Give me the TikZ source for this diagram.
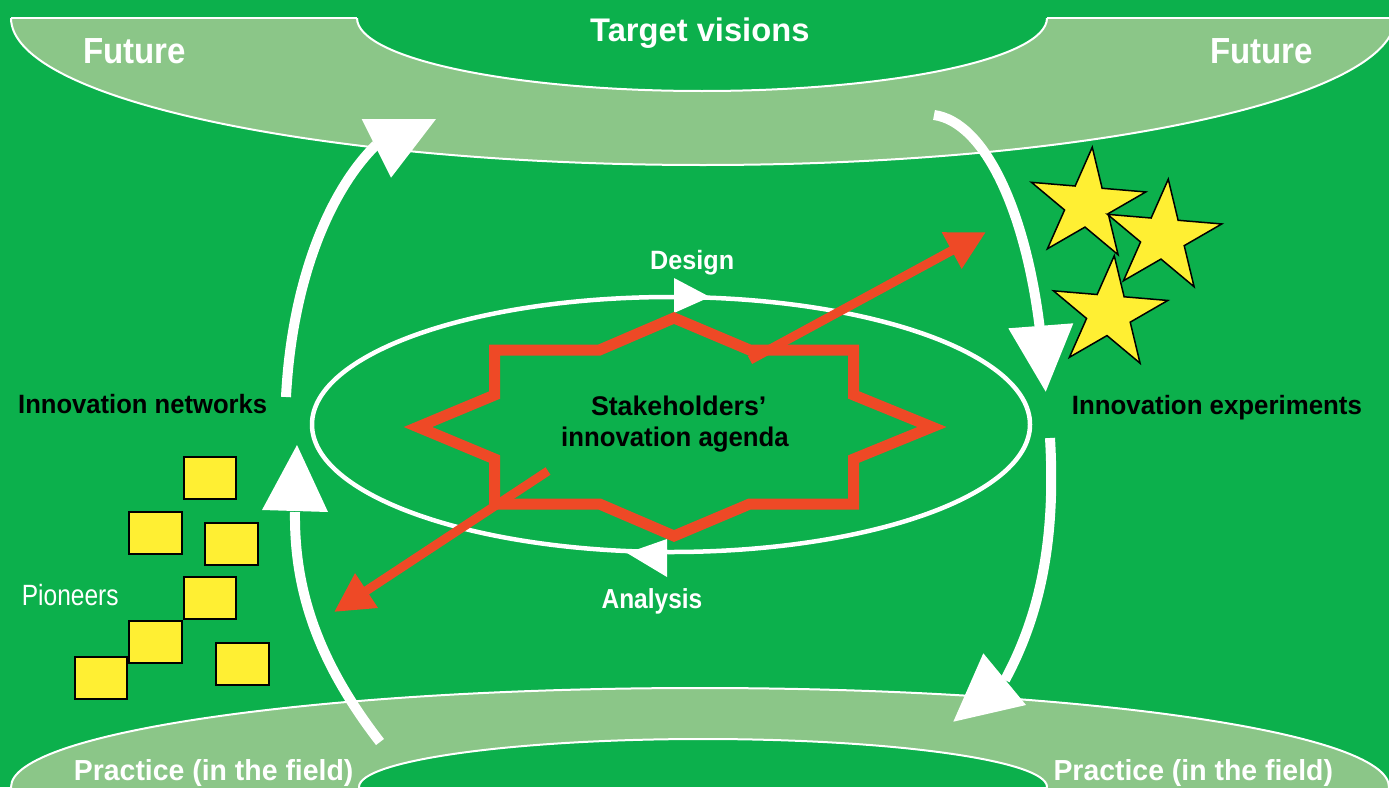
\documentclass[tikz,border=0pt]{standalone}
\usepackage{graphicx}
\usepackage{fontspec}
\setmainfont{Liberation Sans}
\usetikzlibrary{shapes.geometric,arrows.meta}

\definecolor{fieldgreen}{RGB}{12,176,76}
\definecolor{bandgreen}{RGB}{139,198,136}
\definecolor{noteyellow}{RGB}{255,239,51}
\definecolor{agendared}{RGB}{238,73,38}

% size, horizontal squeeze, text
\newcommand\sqz[3]{\fontsize{#1}{#1}\selectfont\scalebox{#2}[1]{#3}}

\begin{document}
\begin{tikzpicture}[x=1pt,y=-1pt,
  bandline/.style={draw=white,line width=2pt},
  flow/.style={draw=white,line width=10pt},
  flowhead/.style={fill=white},
  redline/.style={draw=agendared,line width=9pt,-{Triangle[length=39pt,width=39pt]}},
  lbl/.style={anchor=base west,inner sep=0pt,font=\bfseries},
  note/.style={rectangle,draw=black,line width=2pt,fill=noteyellow,
               minimum width=52.5pt,minimum height=42pt,inner sep=0pt},
  idea/.style={star,star points=5,star point ratio=2.618,minimum size=116pt,
               inner sep=0pt,draw=black,line width=1.5pt,fill=noteyellow,
               xscale=1.04,rotate=-5}]

\clip (0,0) rectangle (1389,787);
\fill[fieldgreen] (0,0) rectangle (1389,787);

% upper band: Future / Target visions
\begin{scope}
  \clip (0,18) rectangle (1389,787);
  \fill[bandgreen,even odd rule]
    (703,18) ellipse [x radius=692pt,y radius=147pt]
    (702,18) ellipse [x radius=345pt,y radius=73pt];
  \draw[bandline]
    (703,18) ellipse [x radius=692pt,y radius=147pt]
    (702,18) ellipse [x radius=345pt,y radius=73pt];
\end{scope}
\draw[bandline] (11,18) -- (357,18) (1047,18) -- (1389,18);

% lower band: Practice (in the field)
\fill[bandgreen,even odd rule]
  (700,787) ellipse [x radius=689pt,y radius=99pt]
  (703,787) ellipse [x radius=344pt,y radius=48pt];
\draw[bandline]
  (700,787) ellipse [x radius=689pt,y radius=99pt]
  (703,787) ellipse [x radius=344pt,y radius=48pt];

% inner design/analysis cycle
\node[ellipse,draw=white,line width=4.5pt,minimum width=718pt,minimum height=255pt,
      inner sep=0pt] (loop) at (671,424.5) {};
\fill[flowhead] (674,278) -- (674,313) -- (710,297) -- cycle;
\fill[flowhead] (667,539) -- (667,577) -- (627,553) -- cycle;

% agenda star (square over diamond)
\draw[agendared,line width=11pt,line join=miter]
  (674,318) -- (749.7,350) -- (853.7,350) -- (853.7,395) -- (932,427)
  -- (853.7,459) -- (853.7,504) -- (749.7,504) -- (674,536) -- (599.5,504)
  -- (494.7,504) -- (494.7,459) -- (418,427) -- (494.7,395) -- (494.7,350)
  -- (599.5,350) -- cycle;

% outward red arrows
\coordinate (r1s) at (750,360);
\coordinate (r1e) at (986,232);
\coordinate (r2s) at (548,471);
\coordinate (r2e) at (334,612);
\draw[redline] (r1s) -- (r1e);
\draw[redline] (r2s) -- (r2e);

% outer white flows
\coordinate (a1s) at (286,397);
\coordinate (a1e) at (376,145);
\draw[flow] (a1s) .. controls (292,280) and (330,190) .. (a1e);
\fill[flowhead] (361.7,119) -- (436,119) -- (391,177.7) -- cycle;

\coordinate (a2s) at (380,742);
\coordinate (a2e) at (295,512);
\draw[flow] (a2s) .. controls (318,662) and (294,590) .. (a2e);
\fill[flowhead] (297,445) -- (262,510) -- (328,512) -- cycle;

\coordinate (a3s) at (934,115);
\coordinate (a3e) at (1040,330);
\draw[flow] (a3s) .. controls (985,122) and (1026,212) .. (a3e);
\fill[flowhead] (1008.3,328.3) -- (1073.3,323.3) -- (1045.7,391.7) -- cycle;

\coordinate (a4s) at (1050,438);
\coordinate (a4e) at (1005,680);
\draw[flow] (a4s) .. controls (1056,540) and (1040,615) .. (a4e);
\fill[flowhead] (983.3,653.3) -- (1026,705) -- (953.3,721.7) -- cycle;

% pioneers
\node[note] (p1) at (209.9,478.3) {};
\node[note] (p2) at (155.5,532.5) {};
\node[note] (p3) at (231.5,543.5) {};
\node[note] (p4) at (209.9,598) {};
\node[note] (p5) at (155.5,641.7) {};
\node[note] (p6) at (101.2,678) {};
\node[note] (p7) at (242.7,663.5) {};

% experiments
\node[idea] (s1) at (1087,205) {};
\node[idea] (s2) at (1163,237) {};
\node[idea] (s3) at (1109,313.5) {};

% labels
\node[lbl,text=white] (futl) at (83,63.5) {\sqz{36.3}{0.91}{Future}};
\node[lbl,text=white] (futr) at (1210,63.5) {\sqz{36.3}{0.91}{Future}};
\node[lbl,text=white] (target) at (590,41.7) {\sqz{32.7}{1.0}{Target visions}};
\node[lbl,text=black] (netw) at (18,413) {\sqz{26.5}{0.966}{Innovation networks}};
\node[lbl,text=black] (exper) at (1071.7,414) {\sqz{26.5}{0.975}{Innovation experiments}};
\node[lbl,text=black] (stakea) at (590.8,415) {\sqz{27}{0.99}{Stakeholders’}};
\node[lbl,text=black] (stakeb) at (561,446.7) {\sqz{27}{0.954}{innovation agenda}};
\node[lbl,text=white] (design) at (650,269) {\sqz{26.5}{0.95}{Design}};
\node[lbl,text=white] (analysis) at (601.4,608.3) {\sqz{27.5}{0.89}{Analysis}};
\node[anchor=base west,inner sep=0pt,text=white] (pioneers) at (21.7,605) {\sqz{29.3}{0.836}{Pioneers}};
\node[lbl,text=white] (pracl) at (73.7,780) {\sqz{29}{0.98}{Practice (in the field)}};
\node[lbl,text=white] (pracr) at (1053.3,780) {\sqz{29}{0.98}{Practice (in the field)}};

\end{tikzpicture}
\end{document}
